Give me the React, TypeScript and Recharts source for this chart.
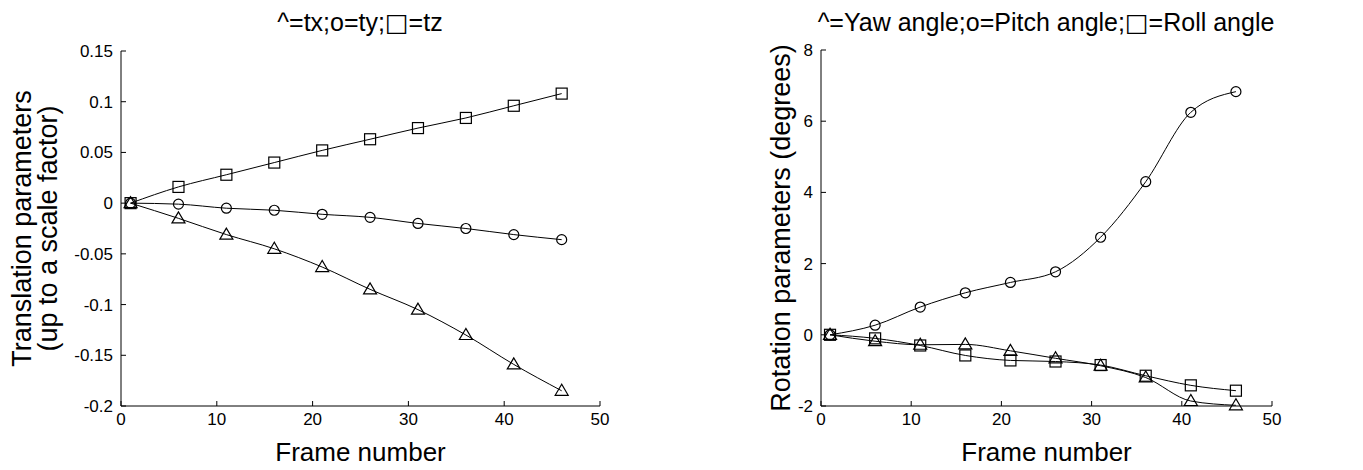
import { LineChart, Line, XAxis, YAxis, Label } from 'recharts'

const frames = [1, 6, 11, 16, 21, 26, 31, 36, 41, 46]

// left panel: translation
const tx = [0, -0.015, -0.031, -0.045, -0.063, -0.085, -0.105, -0.13, -0.159, -0.185]
const ty = [0, -0.001, -0.005, -0.007, -0.011, -0.014, -0.02, -0.025, -0.031, -0.036]
const tz = [0, 0.016, 0.028, 0.04, 0.052, 0.063, 0.074, 0.084, 0.096, 0.108]

// right panel: rotation (degrees)
const yaw = [0, -0.18, -0.28, -0.27, -0.45, -0.66, -0.87, -1.2, -1.86, -1.98]
const pitch = [0, 0.27, 0.78, 1.18, 1.47, 1.77, 2.74, 4.3, 6.25, 6.83]
const roll = [0, -0.1, -0.3, -0.58, -0.72, -0.75, -0.85, -1.15, -1.42, -1.57]

const xTicks = [0, 10, 20, 30, 40, 50]
const transTicks = [-0.2, -0.15, -0.1, -0.05, 0, 0.05, 0.1, 0.15]
const rotTicks = [-2, 0, 2, 4, 6, 8]

const FONT = '"Liberation Sans", Arial, Helvetica, sans-serif'
const INK = '#000'

const transData = frames.map((f, i) => ({ frame: f, a: tx[i], b: ty[i], c: tz[i] }))
const rotData = frames.map((f, i) => ({ frame: f, a: yaw[i], b: pitch[i], c: roll[i] }))

type Shape = 'triangle' | 'circle' | 'square'

function marker(shape: Shape) {
  return (props: any) => {
    const { cx, cy, index } = props
    const key = `${shape}-${index}`
    if (cx == null || cy == null) return <g key={key} />
    if (shape === 'circle') {
      return <circle key={key} cx={cx} cy={cy} r={5} fill="none" stroke={INK} strokeWidth={1.2} />
    }
    if (shape === 'square') {
      return <rect key={key} x={cx - 5.5} y={cy - 5.5} width={11} height={11} fill="none" stroke={INK} strokeWidth={1.2} />
    }
    const d = `M${cx},${cy - 6.5} L${cx - 6.5},${cy + 4.5} L${cx + 6.5},${cy + 4.5} Z`
    return <path key={key} d={d} fill="none" stroke={INK} strokeWidth={1.2} />
  }
}

const tickStyle = { fill: INK, fontSize: 17, fontFamily: FONT }
const axisLine = { stroke: INK, strokeWidth: 1 }
const tickLine = { stroke: INK, strokeWidth: 1 }

function XLabel({ viewBox }: any) {
  const cx = viewBox.x + viewBox.width / 2
  return (
    <text x={cx} y={viewBox.y + 55} textAnchor="middle" fontSize={26} fontFamily={FONT} fill={INK}>
      Frame number
    </text>
  )
}

function VText({ x, y, children }: { x: number; y: number; children: string }) {
  return (
    <text
      transform={`translate(${x}, ${y}) rotate(-90)`}
      textAnchor="middle"
      dominantBaseline="central"
      fontSize={27}
      fontFamily={FONT}
      fill={INK}
    >
      {children}
    </text>
  )
}

function TransYLabel({ viewBox }: any) {
  const cy = viewBox.y + viewBox.height / 2
  return (
    <g>
      <VText x={viewBox.x + 22} y={cy}>Translation parameters</VText>
      <VText x={viewBox.x + 48} y={cy}>(up to a scale factor)</VText>
    </g>
  )
}

function RotYLabel({ viewBox }: any) {
  const cy = viewBox.y + viewBox.height / 2
  return <VText x={viewBox.x + 101} y={cy}>Rotation parameters (degrees)</VText>
}

function Panel(props: {
  data: { frame: number; a: number; b: number; c: number }[]
  width: number
  yWidth: number
  right: number
  top: number
  domain: [number, number]
  ticks: number[]
  yLabel: (p: any) => any
}) {
  const { data, width, yWidth, right, top, domain, ticks, yLabel } = props
  return (
    <LineChart width={width} height={470} data={data} margin={{ top, right, bottom: 0, left: 0 }}>
      <XAxis
        dataKey="frame"
        type="number"
        domain={[0, 50]}
        ticks={xTicks}
        height={64}
        tick={tickStyle}
        axisLine={axisLine}
        tickLine={tickLine}
        tickSize={-5}
        tickMargin={12}
      >
        <Label content={XLabel} />
      </XAxis>
      <YAxis
        type="number"
        domain={domain}
        ticks={ticks}
        width={yWidth}
        interval={0}
        tick={tickStyle}
        tickFormatter={(v: number) => String(v)}
        axisLine={axisLine}
        tickLine={tickLine}
        tickSize={-5}
        tickMargin={13}
      >
        <Label content={yLabel} />
      </YAxis>
      <Line dataKey="a" type="monotone" stroke={INK} strokeWidth={1} dot={marker('triangle')} isAnimationActive={false} />
      <Line dataKey="b" type="monotone" stroke={INK} strokeWidth={1} dot={marker('circle')} isAnimationActive={false} />
      <Line dataKey="c" type="monotone" stroke={INK} strokeWidth={1} dot={marker('square')} isAnimationActive={false} />
    </LineChart>
  )
}

const BOX = <tspan fontFamily='"DejaVu Sans", sans-serif'>□</tspan>

export default function App() {
  return (
    <div style={{ position: 'absolute', left: 0, top: 0, width: 1363, height: 470, background: '#fff' }}>
      <div style={{ position: 'absolute', left: 0, top: 0 }}>
        <Panel data={transData} width={680} yWidth={121} right={80} top={51} domain={[-0.2, 0.15]} ticks={transTicks} yLabel={TransYLabel} />
      </div>
      <div style={{ position: 'absolute', left: 680, top: 0 }}>
        <Panel data={rotData} width={683} yWidth={141} right={91} top={50} domain={[-2, 8]} ticks={rotTicks} yLabel={RotYLabel} />
      </div>
      <svg width={1363} height={470} style={{ position: 'absolute', left: 0, top: 0, pointerEvents: 'none' }}>
        <text x={360} y={31} textAnchor="middle" fontSize={25} fontFamily={FONT} fill={INK}>
          ^=tx;o=ty;{BOX}=tz
        </text>
        <text x={1046} y={31} textAnchor="middle" fontSize={25} fontFamily={FONT} fill={INK}>
          ^=Yaw angle;o=Pitch angle;{BOX}=Roll angle
        </text>
      </svg>
    </div>
  )
}
